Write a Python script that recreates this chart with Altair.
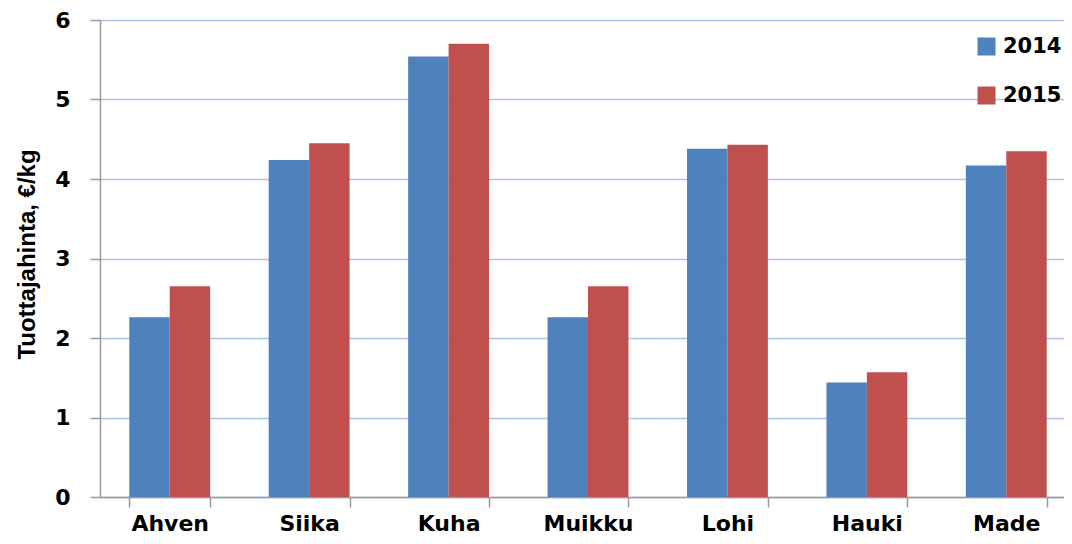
import altair as alt
import pandas as pd

categories = ["Ahven", "Siika", "Kuha", "Muikku", "Lohi", "Hauki", "Made"]
years = ["2014", "2015"]
v2014 = [2.26, 4.24, 5.54, 2.26, 4.38, 1.44, 4.17]
v2015 = [2.65, 4.45, 5.70, 2.65, 4.43, 1.57, 4.35]
colors = ["#4f81bd", "#c0504d"]

rows = []
for c, a, b in zip(categories, v2014, v2015):
    rows.append({"Laji": c, "Vuosi": "2014", "Hinta": a})
    rows.append({"Laji": c, "Vuosi": "2015", "Hinta": b})
df = pd.DataFrame(rows)

chart = alt.Chart(df).mark_bar().encode(
    x=alt.X(
        "Laji:N",
        sort=categories,
        scale=alt.Scale(paddingInner=0.42, paddingOuter=0.21),
        axis=alt.Axis(
            title=None, labelAngle=0, labelFont="DejaVu Sans", labelFontWeight="bold",
            labelFontSize=22, labelColor="#000000", labelPadding=23,
            labelBaseline="alphabetic",
            tickSize=10, tickColor="#9a9a9a", domainColor="#9a9a9a", domainWidth=1.5,
            tickWidth=1.5, tickBand="extent", grid=False,
        ),
    ),
    xOffset=alt.XOffset("Vuosi:N", sort=years),
    y=alt.Y(
        "Hinta:Q",
        scale=alt.Scale(domain=[0, 6], nice=False),
        axis=alt.Axis(
            title="Tuottajahinta, €/kg", values=[0, 1, 2, 3, 4, 5, 6], format="d",
            labelFont="DejaVu Sans", labelFontWeight="bold", labelFontSize=22,
            labelColor="#000000", labelPadding=20, tickSize=10, tickColor="#9a9a9a",
            tickWidth=1.5, domainColor="#9a9a9a", domainWidth=1.5,
            grid=True, gridColor="#aac2e6", gridWidth=1.5,
            titleFont="Liberation Sans", titleFontWeight="bold", titleFontSize=24,
            titleColor="#000000", titleX=-61, titleY=234,
        ),
    ),
    color=alt.Color(
        "Vuosi:N",
        scale=alt.Scale(domain=years, range=colors),
        legend=alt.Legend(
            title=None, orient="none", legendX=876, legendY=16, symbolType="square",
            symbolSize=324, symbolStrokeWidth=0, labelFont="DejaVu Sans",
            labelFontWeight="bold", labelFontSize=21, labelColor="#000000",
            rowPadding=27, padding=0, labelOffset=6,
        ),
    ),
).properties(
    width=976,
    height=477,
    autosize=alt.AutoSizeParams(type="none"),
    padding={"left": 92, "top": 12, "right": -12, "bottom": 39},
).configure_view(stroke=None)

chart.save("out.html", embed_options={"renderer": "svg", "actions": False})
